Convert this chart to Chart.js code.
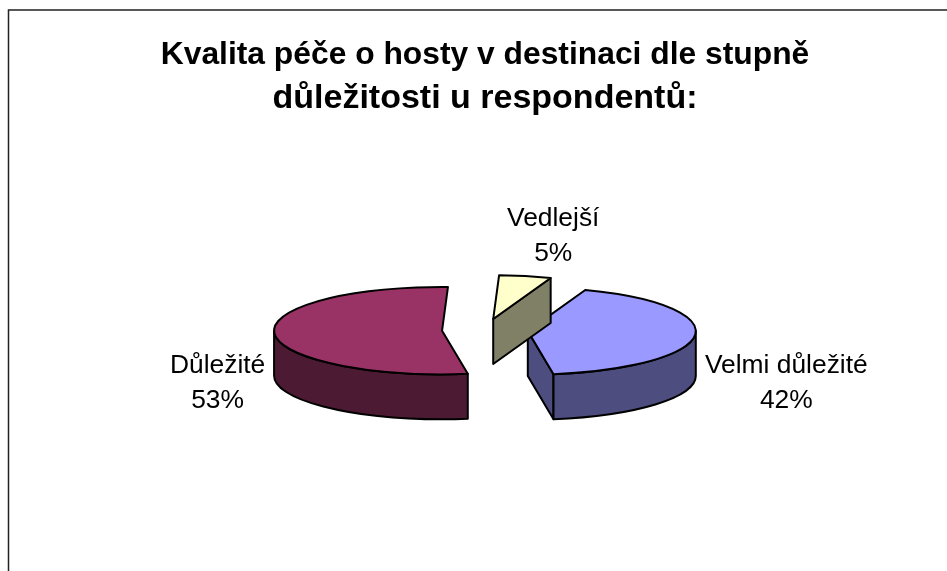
<!DOCTYPE html>
<html>
<head>
<meta charset="utf-8">
<title>Kvalita péče o hosty</title>
<script src="https://cdn.jsdelivr.net/npm/chart.js@4/dist/chart.umd.min.js"></script>
<style>
html, body { margin: 0; padding: 0; background: #fff; }
#wrap { width: 947px; height: 571px; position: relative; }
</style>
</head>
<body>
<div id="wrap"><canvas id="pieChart" width="947" height="571"></canvas></div>
<script>
(function(){
    "use strict";
    var categories = ["Velmi důležité", "Důležité", "Vedlejší"];
    var values = [42, 53, 5];
    var topColors = ["#9999ff", "#993366", "#ffffcc"];
    var wallColors = ["#4d4d80", "#4d1a33", "#808066"];
    var titleLine1 = "Kvalita péče o hosty v destinaci dle stupně";
    var titleLine2 = "důležitosti u respondentů:";

    var squash = 0.26;
    var depth = 45;
    var titleFamily = '"Liberation Sans", Arial, sans-serif';
    var font = '26.4px ' + titleFamily;
    // label baseline, relative to the middle of each exploded slice
    var labelShift = [[258.5, 42], [-224.5, 42], [60, -93]];

    function sliceGeometry(arc, offset) {
        var p = arc.getProps(["x", "y", "startAngle", "endAngle", "outerRadius"], true);
        var mid = (p.startAngle + p.endAngle) / 2;
        var move = offset / 4;
        return {
            x: p.x + Math.cos(mid) * move,
            y: p.y + Math.sin(mid) * move * squash,
            r: p.outerRadius + move,
            a: p.startAngle,
            b: p.endAngle
        };
    }

    function cutFace(ctx, s, angle) {
        var ex = s.x + Math.cos(angle) * s.r;
        var ey = s.y + Math.sin(angle) * s.r * squash;
        ctx.beginPath();
        ctx.moveTo(s.x, s.y);
        ctx.lineTo(ex, ey);
        ctx.lineTo(ex, ey + depth);
        ctx.lineTo(s.x, s.y + depth);
        ctx.closePath();
        ctx.fill();
        ctx.stroke();
    }

    function outerWall(ctx, s) {
        // only the part of the rim that faces the viewer, canvas angles 0..PI
        var from = Math.max(s.a, 0), to = Math.min(s.b, Math.PI);
        if (to <= from) return;
        ctx.beginPath();
        ctx.ellipse(s.x, s.y, s.r, s.r * squash, 0, from, to);
        ctx.ellipse(s.x, s.y + depth, s.r, s.r * squash, 0, to, from, true);
        ctx.closePath();
        ctx.fill();
        ctx.stroke();
    }

    var pie3d = {
        id: "pie3d",
        beforeDatasetsDraw: function(chart) {
            var ctx = chart.ctx;
            var arcs = chart.getDatasetMeta(0).data;
            var total = values.reduce(function(a, b) { return a + b; }, 0);
            ctx.save();
            ctx.lineWidth = 2;
            ctx.lineJoin = "round";
            ctx.strokeStyle = "#000";
            arcs.forEach(function(arc, i) {
                var s = sliceGeometry(arc, arc.options.offset);
                ctx.fillStyle = wallColors[i];
                if (-Math.cos(s.a) > 0.1) cutFace(ctx, s, s.a);
                if (Math.cos(s.b) > 0.1) cutFace(ctx, s, s.b);
                outerWall(ctx, s);
                ctx.fillStyle = topColors[i];
                ctx.beginPath();
                ctx.moveTo(s.x, s.y);
                ctx.ellipse(s.x, s.y, s.r, s.r * squash, 0, s.a, s.b);
                ctx.closePath();
                ctx.fill();
                ctx.stroke();

                ctx.fillStyle = "#000";
                ctx.font = font;
                ctx.textAlign = "center";
                ctx.textBaseline = "alphabetic";
                var lx = s.x + labelShift[i][0], ly = s.y + labelShift[i][1];
                ctx.fillText(categories[i], lx, ly);
                ctx.fillText(Math.round(values[i] / total * 100) + "%", lx, ly + 35);
            });
            ctx.restore();
            return false;
        },
        beforeDraw: function(chart) {
            // chart frame runs off the right and bottom of the picture
            var ctx = chart.ctx;
            ctx.save();
            ctx.strokeStyle = "#222";
            ctx.lineWidth = 1.5;
            ctx.beginPath();
            ctx.moveTo(8.5, chart.height);
            ctx.lineTo(8.5, 10);
            ctx.lineTo(chart.width, 10);
            ctx.stroke();
            ctx.restore();
        }
    };

    new Chart(document.querySelector("#pieChart"), {
        type: "pie",
        data: {
            labels: categories,
            datasets: [{
                data: values,
                backgroundColor: topColors,
                borderWidth: 0,
                offset: 172,
                radius: 125
            }]
        },
        plugins: [pie3d],
        options: {
            responsive: false,
            animation: false,
            rotation: 20,
            layout: { padding: { left: 23, right: 0, top: 0, bottom: 31.3 } },
            plugins: {
                legend: { display: false },
                tooltip: { enabled: false },
                title: {
                    display: true,
                    text: titleLine1,
                    color: "#000",
                    font: { family: titleFamily, size: 31.8, weight: "bold", lineHeight: 1.28 },
                    padding: { top: 34.6, bottom: 0 }
                },
                subtitle: {
                    display: true,
                    text: titleLine2,
                    color: "#000",
                    font: { family: titleFamily, size: 34, weight: "bold", lineHeight: 1.25 },
                    padding: { top: 2.5, bottom: 0 }
                }
            }
        }
    });
})();
</script>
</body>
</html>
